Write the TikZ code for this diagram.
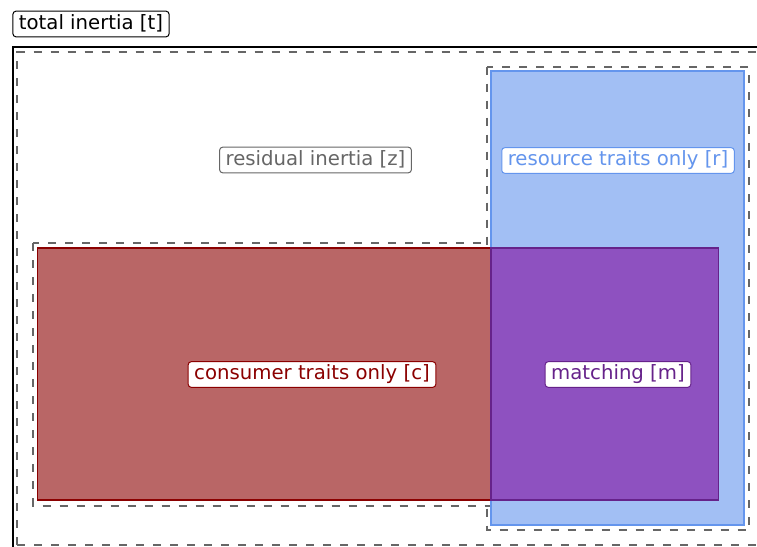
\documentclass[tikz,border=0pt]{standalone}
\usepackage{fontspec}
\setmainfont{DejaVu Sans}
\definecolor{dashgray}{HTML}{666666}
\definecolor{resfill}{HTML}{A2BFF4}
\definecolor{resline}{HTML}{6495ED}
\definecolor{confill}{HTML}{B96666}
\definecolor{conline}{HTML}{8B0000}
\definecolor{matfill}{HTML}{8E51C0}
\definecolor{matline}{HTML}{66228A}
\tikzset{
  dashbox/.style={draw=dashgray, line width=2pt, dash pattern=on 8pt off 9pt},
  lab/.style={draw=#1, text=#1, fill=white, rounded corners=3pt, line width=1pt,
    font=\fontsize{19.7}{24}\selectfont, inner xsep=6pt, inner ysep=3pt,
    text height=15pt, text depth=4.6pt},
}
\begin{document}
\begin{tikzpicture}[x=1pt,y=-1pt]
\useasboundingbox (0,0) rectangle (757,546);
\clip (0,0) rectangle (757,546);
% total frame
\draw[black, line width=2pt] (12.5,800) -- (12.5,46.5) -- (900,46.5);
% residual dashed
\draw[dashbox] (17,800) -- (17,51.5) -- (900,51.5);
\draw[dashbox] (17,545) -- (900,545);
% resource dashed
\draw[dashbox] (487,66.5) rectangle (749,530);
% consumer dashed
\draw[dashbox] (33,243) rectangle (496,505.5);
% consumer rect
\draw[fill=confill, draw=conline, line width=1.5pt] (37.5,248) rectangle (491,500);
% resource rect
\draw[fill=resfill, draw=resline, line width=1.5pt] (491,71) rectangle (744,525);
% matching rect
\draw[fill=matfill, draw=matline, line width=1.5pt] (491,248) rectangle (718.5,500);
% labels
\node[lab=black] (t) at (91,24) {total inertia [t]};
\node[lab=dashgray] (z) at (315.5,160) {residual inertia [z]};
\node[lab=resline] (r) at (618,160.5) {resource traits only [r]};
\node[lab=conline] (c) at (312,374.5) {consumer traits only [c]};
\node[lab=matline] (m) at (618,374.5) {matching [m]};
\end{tikzpicture}
\end{document}
